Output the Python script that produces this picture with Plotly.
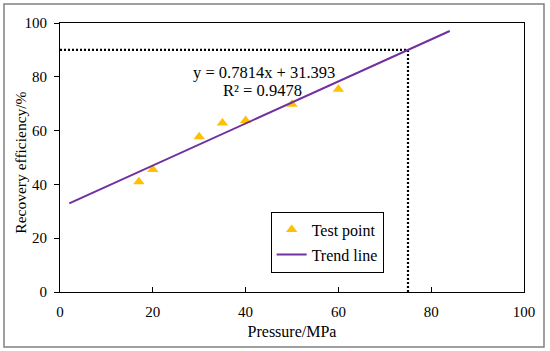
import plotly.graph_objects as go

# Test data
pressure = [17, 20, 30, 35, 40, 50, 60]
recovery = [41.0, 45.5, 57.7, 62.8, 63.8, 69.8, 75.4]

# Trend line: y = 0.7814x + 31.393 over x range
slope = 0.7814
intercept = 31.393
trend_x = [2, 84]
trend_y = [slope * v + intercept for v in trend_x]

# Reference dotted guide lines
target_recovery = 90
target_pressure = 75

x_ticks = [0, 20, 40, 60, 80, 100]
y_ticks = [0, 20, 40, 60, 80, 100]

FONT = "Liberation Serif, Times New Roman, serif"

fig = go.Figure()

fig.add_trace(go.Scatter(
    x=[0, target_pressure, target_pressure],
    y=[target_recovery, target_recovery, 0],
    mode="lines",
    line=dict(color="black", width=2.2, dash="2px,2px"),
    showlegend=False, hoverinfo="skip",
))

fig.add_trace(go.Scatter(
    x=pressure, y=recovery, mode="markers", name="Test point",
    marker=dict(symbol="triangle-up", size=10, color="#FFC000"),
    legendgroup="a",
))

fig.add_trace(go.Scatter(
    x=trend_x, y=trend_y, mode="lines", name="Trend line",
    line=dict(color="#7030A0", width=2),
    legendgroup="b",
))

fig.add_annotation(x=43.9, y=81.5, xref="x", yref="y",
                   text="y = 0.7814x + 31.393", showarrow=False,
                   font=dict(family=FONT, size=16.5, color="black"))
fig.add_annotation(x=43.6, y=74.8, xref="x", yref="y",
                   text="R² = 0.9478", showarrow=False,
                   font=dict(family=FONT, size=16.5, color="black"))

# y-axis title placed as annotation
fig.add_annotation(x=-0.084, y=0.481, xref="paper", yref="paper",
                   xanchor="center", yanchor="middle",
                   text="Recovery efficiency/%", textangle=-90, showarrow=False,
                   font=dict(family=FONT, size=15.5, color="black"))

# outer frame
fig.add_shape(type="rect", xref="paper", yref="paper",
              x0=-0.1207, x1=1.0431, y0=-0.2045, y1=1.0706,
              line=dict(color="#808080", width=1.5), layer="below")

fig.update_layout(
    width=550, height=351,
    margin=dict(l=60, r=26, t=23, b=59, autoexpand=False),
    paper_bgcolor="white", plot_bgcolor="white",
    font=dict(family=FONT, size=15, color="black"),
    showlegend=True,
    legend=dict(
        x=0.454, y=0.2985, xanchor="left", yanchor="top",
        bgcolor="white", bordercolor="black", borderwidth=1,
        font=dict(family=FONT, size=16, color="black"),
        traceorder="grouped", tracegroupgap=1,
    ),
    xaxis=dict(
        range=[0, 100], tickvals=x_ticks, ticks="inside", ticklen=5,
        tickcolor="black", showline=True, linecolor="black", linewidth=1,
        mirror=True, showgrid=False, zeroline=False, automargin=False,
        ticklabelstandoff=6,
        title=dict(text="Pressure/MPa", standoff=6,
                   font=dict(family=FONT, size=16)),
    ),
    yaxis=dict(
        range=[0, 100], tickvals=y_ticks, ticks="outside", ticklen=5,
        tickcolor="black", showline=True, linecolor="black", linewidth=1,
        mirror=True, showgrid=False, zeroline=False, automargin=False,
        ticklabelstandoff=4,
    ),
)

fig.write_html("out.html", config={"displayModeBar": False},
               post_script="document.body.style.margin='0';document.body.style.overflow='hidden';")
